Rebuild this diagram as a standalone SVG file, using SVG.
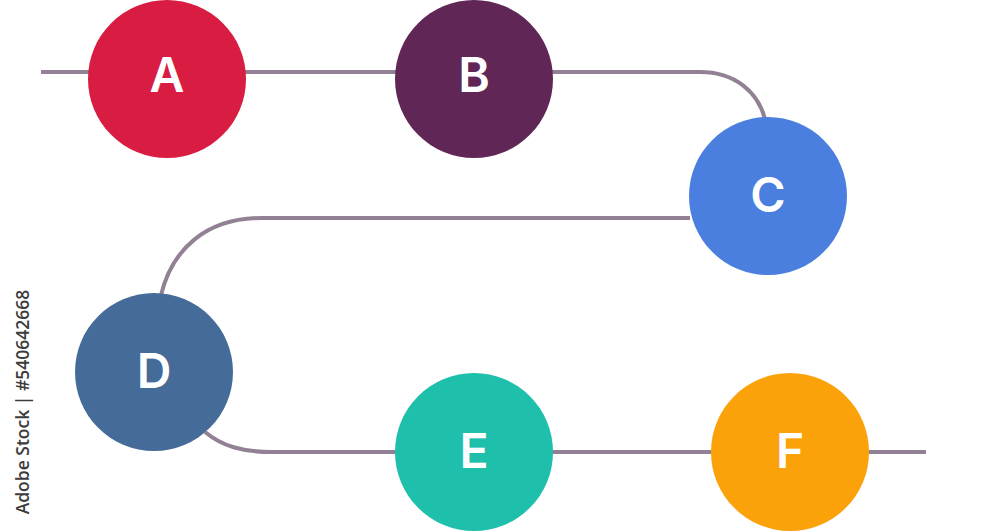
<svg xmlns="http://www.w3.org/2000/svg" width="1000" height="532" viewBox="0 0 1000 532">
<style>
.lbl{font-family:Inter,"DejaVu Sans",sans-serif;font-weight:600;font-size:48px;fill:#ffffff;text-anchor:middle}
.con{fill:none;stroke:#928194;stroke-width:4}
.credit{font-family:"Open Sans","DejaVu Sans",sans-serif;font-weight:600;font-size:17.5px;fill:#3c3c3c;text-anchor:middle}
</style>
<rect width="1000" height="532" fill="#ffffff"/>
<g id="connectors">
<path class="con" d="M41,72 H700 C735,72 758,92 765,119"/>
<path class="con" d="M690,218 H262 C205,218 172,250 161,295"/>
<path class="con" d="M205,432 C222,446 242,452 272,452 H926"/>
</g>
<g id="node-A"><circle cx="167" cy="79" r="79" fill="#d91c41"/><text class="lbl" x="167" y="92">A</text></g>
<g id="node-B"><circle cx="474" cy="79" r="79" fill="#5f2656"/><text class="lbl" x="474" y="92">B</text></g>
<g id="node-C"><circle cx="768" cy="196" r="79" fill="#4a7fe0"/><text class="lbl" x="768" y="212">C</text></g>
<g id="node-D"><circle cx="154" cy="372" r="79" fill="#456b99"/><text class="lbl" x="154" y="388">D</text></g>
<g id="node-E"><circle cx="474" cy="452" r="79" fill="#1ebfab"/><text class="lbl" x="474" y="468">E</text></g>
<g id="node-F"><circle cx="790" cy="452" r="79" fill="#fba10a"/><text class="lbl" x="790" y="468">F</text></g>
<text class="credit" transform="translate(29,402) rotate(-90)">Adobe Stock | #540642668</text>
</svg>
